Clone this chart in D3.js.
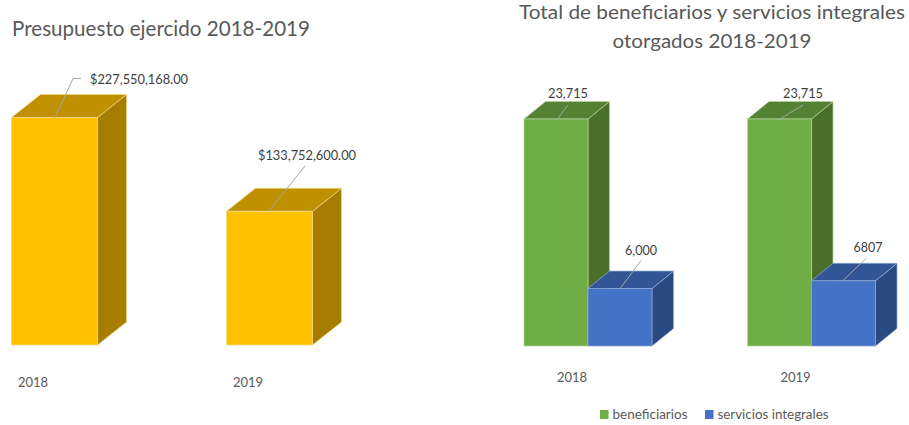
<!DOCTYPE html>
<html>
<head>
<meta charset="utf-8">
<script src="https://cdn.jsdelivr.net/npm/d3@7"></script>
<style>
html,body{margin:0;padding:0;background:#fff;}
svg{display:block;}
text{font-family:Lato,"Open Sans",sans-serif;fill:#595959;}
</style>
</head>
<body>
<svg id="c" width="909" height="425"></svg>
<script>
const years = ["2018", "2019"];
const budget = [227550168, 133752600];
const budgetLabels = ["$227,550,168.00", "$133,752,600.00"];
const seriesNames = ["beneficiarios", "servicios integrales"];
const beneficiarios = [23715, 23715];
const servicios = [6000, 6807];
const servicesLabels = ["6,000", "6807"];
const beneficiariosLabels = ["23,715", "23,715"];

const svg = d3.select("#c");

function box(g, x, w, yTop, yBase, dx, dy, c) {
  const pts = a => a.map(p => p.join(",")).join(" ");
  g.append("polygon").attr("points", pts([[x+w,yTop],[x+w+dx,yTop-dy],[x+w+dx,yBase-dy],[x+w,yBase]]))
    .attr("fill", c.side).attr("stroke", c.edge).attr("stroke-width", 0.7);
  g.append("polygon").attr("points", pts([[x,yTop],[x+dx,yTop-dy],[x+w+dx,yTop-dy],[x+w,yTop]]))
    .attr("fill", c.top).attr("stroke", c.edge).attr("stroke-width", 0.7);
  g.append("rect").attr("x", x).attr("y", yTop).attr("width", w).attr("height", yBase-yTop)
    .attr("fill", c.front).attr("stroke", c.edge).attr("stroke-width", 0.7);
}
function leader(pts) {
  svg.append("path").attr("d", d3.line()(pts)).attr("fill", "none")
    .attr("stroke", "#a6a6a6").attr("stroke-width", 1);
}
function label(t, x, y, anchor, size, w, col) {
  const s = svg.append("text").attr("x", x).attr("y", y).attr("text-anchor", anchor)
    .attr("font-size", size).text(t);
  if (w) s.attr("textLength", w).attr("lengthAdjust", "spacingAndGlyphs");
  if (col) s.style("fill", col);
  return s;
}

const gold = {front:"#ffc000", top:"#bf9000", side:"#a67d00", edge:"#f0d98a"};
const green = {front:"#70ad47", top:"#548235", side:"#4a6f2d", edge:"#b5d3a0"};
const blue = {front:"#4472c4", top:"#325596", side:"#294a80", edge:"#8faadc"};
const dark = "#404040";

/* Left chart */
const xL = d3.scaleBand().domain(years).range([11.5, 312.5]).paddingInner(0.6).paddingOuter(0);
const yL = d3.scaleLinear().domain([0, budget[0]]).range([345, 117.5]);
const gL = svg.append("g");
years.forEach((yr, i) => box(gL, xL(yr), xL.bandwidth(), yL(budget[i]), yL(0), 29, 23, gold));

label("Presupuesto ejercido 2018-2019", 12, 36, "start", 20.5, 298);
leader([[55,118],[73,78.5],[81,78.5]]);
leader([[269,211],[305,166]]);
label(budgetLabels[0], 90, 84, "start", 14, 98, dark);
label(budgetLabels[1], 258, 160, "start", 14, 98, dark);

const axL = svg.append("g").attr("transform", "translate(11,386.5)")
  .call(d3.axisBottom(xL.copy().range([0, 301])).tickSize(0).tickPadding(0));
axL.select(".domain").remove();
axL.selectAll("text").attr("font-size", 13).attr("text-anchor", "middle").attr("dy", 0).attr("y", 0)
  .attr("dx", -21).style("font-family", "Lato").style("fill", "#595959");

/* Right chart */
const xR = d3.scaleBand().domain(years).range([524, 875.5]).paddingInner(95.5/223.5).paddingOuter(0);
const xS = d3.scaleBand().domain(seriesNames).range([0, xR.bandwidth()]);
const yR = d3.scaleLinear().domain([0, 23715]).range([346, 119]);
const gR = svg.append("g");
years.forEach((yr, i) => {
  box(gR, xR(yr)+xS(seriesNames[0]), xS.bandwidth(), yR(beneficiarios[i]), yR(0), 21.5, 17.5, green);
  box(gR, xR(yr)+xS(seriesNames[1]), xS.bandwidth(), yR(servicios[i]), yR(0), 21.5, 17.5, blue);
});

label("Total de beneficiarios y servicios integrales", 712, 18.5, "middle", 18.5, 386);
label("otorgados 2018-2019", 712, 47.5, "middle", 18.5, 199);

leader([[557,119.5],[568,105]]);
leader([[779,119.5],[803,105]]);
leader([[620.5,288],[641,260.5]]);
leader([[843,280.5],[866.5,258]]);
label(beneficiariosLabels[0], 568, 98, "middle", 14, 40, dark);
label(beneficiariosLabels[1], 803, 98, "middle", 14, 40, dark);
label(servicesLabels[0], 641, 255, "middle", 14, 32, dark);
label(servicesLabels[1], 868, 252, "middle", 14, 29, dark);

const axR = svg.append("g").attr("transform", "translate(-16,381.5)")
  .call(d3.axisBottom(xR).tickSize(0).tickPadding(0));
axR.select(".domain").remove();
axR.selectAll("text").attr("font-size", 13).attr("y", 0).attr("dy", 0)
  .style("font-family", "Lato").style("fill", "#595959");

/* Legend */
const legendX = [600, 705];
seriesNames.forEach((n, i) => {
  svg.append("rect").attr("x", legendX[i]).attr("y", 410).attr("width", 8.5).attr("height", 9)
    .attr("fill", [green.front, blue.front][i]);
  label(n, legendX[i]+12.5, 419, "start", 13.5, [75, 111][i]);
});
</script>
</body>
</html>
